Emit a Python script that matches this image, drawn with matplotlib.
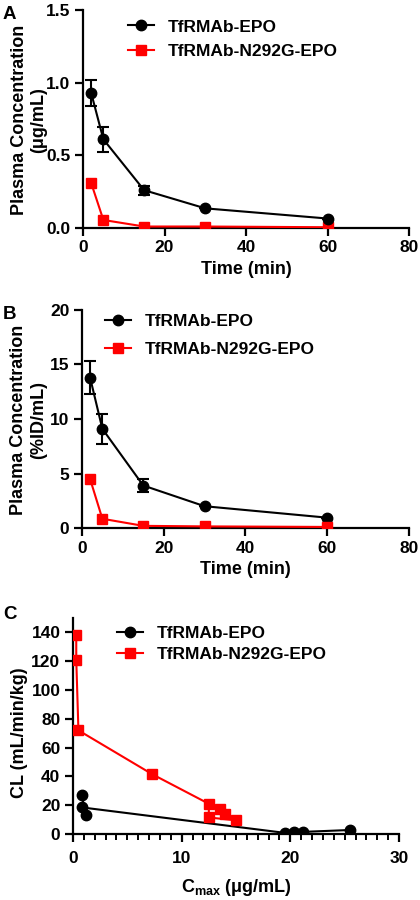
import matplotlib
matplotlib.use("Agg")
import matplotlib.pyplot as plt
from matplotlib.ticker import MultipleLocator
from matplotlib.lines import Line2D

plt.rcParams['font.family'] = ['Liberation Sans', 'DejaVu Sans']
plt.rcParams['font.weight'] = 'bold'
plt.rcParams['axes.labelweight'] = 'bold'
plt.rcParams['mathtext.fontset'] = 'custom'
plt.rcParams['mathtext.rm'] = 'Liberation Sans:bold'
plt.rcParams['mathtext.it'] = 'Liberation Sans:bold'
plt.rcParams['mathtext.bf'] = 'Liberation Sans:bold'

# Panel A / B data
time = [2, 5, 15, 30, 60]
a_epo = [0.93, 0.61, 0.26, 0.135, 0.065]
a_epo_err = [0.09, 0.085, 0.03, 0.0, 0.0]
a_n292g = [0.31, 0.055, 0.01, 0.01, 0.005]

b_epo = [13.8, 9.1, 3.9, 2.0, 0.95]
b_epo_err = [1.5, 1.4, 0.6, 0.0, 0.0]
b_n292g = [4.5, 0.85, 0.2, 0.15, 0.1]
b_n292g_err = [0.35, 0.0, 0.0, 0.0, 0.0]

# Panel C data
c_epo_x = [0.8, 1.2, 0.8, 19.5, 20.3, 21.2, 25.5]
c_epo_y = [27, 13, 18.5, 0.8, 1.2, 1.5, 2.8]
c_n_x = [0.3, 0.3, 0.5, 7.3, 12.5, 12.5, 15.0, 14.0, 13.5]
c_n_y = [138, 121, 72, 41.5, 21, 11.5, 9.5, 14, 17.5]

labels = ['TfRMAb-EPO', 'TfRMAb-N292G-EPO']
BLACK = 'black'
RED = '#ff0000'
MS_C = 7.5
MS_S = 7.5

fig = plt.figure(figsize=(4.2, 9), dpi=100)
FS = 12.5
LFS = 13

def style(ax):
    for s in ['top', 'right']:
        ax.spines[s].set_visible(False)
    for s in ['left', 'bottom']:
        ax.spines[s].set_linewidth(1.6)
    ax.tick_params(axis='both', which='major', direction='out', length=6, width=1.6, labelsize=FS, pad=3)
    ax.tick_params(axis='both', which='minor', direction='out', length=4, width=1.4)
    for t in ax.get_xticklabels() + ax.get_yticklabels():
        t.set_fontweight('bold')

def leg(ax, x, y, spacing):
    handles = [Line2D([], [], color=BLACK, marker='o', ms=MS_C, lw=1.5),
               Line2D([], [], color=RED, marker='s', ms=MS_S, lw=1.5)]
    l = ax.legend(handles, labels, loc='upper left', bbox_to_anchor=(x, y), frameon=False, fontsize=FS,
                  handlelength=1.5, handletextpad=0.8, labelspacing=spacing, borderpad=0, borderaxespad=0)
    for t in l.get_texts():
        t.set_fontweight('bold')

# Panel A
axA = fig.add_axes([0.1976, 0.7467, 0.7764, 0.2422])
axA.errorbar(time, a_epo, yerr=a_epo_err, color=BLACK, marker='o', ms=MS_C, lw=1.5,
             capsize=4, elinewidth=1.5, capthick=1.5, zorder=3)
axA.plot(time, a_n292g, color=RED, marker='s', ms=MS_S, lw=1.5, zorder=3)
axA.set_xlim(0, 80)
axA.set_ylim(0, 1.5)
axA.set_xticks([0, 20, 40, 60, 80])
axA.set_yticks([0.0, 0.5, 1.0, 1.5])
axA.set_yticklabels(['0.0', '0.5', '1.0', '1.5'])
axA.set_xlabel('Time (min)', fontsize=LFS, fontweight='bold')
axA.set_ylabel('Plasma Concentration\n(μg/mL)', fontsize=LFS, fontweight='bold', linespacing=1.2)
axA.yaxis.set_label_coords(-0.11, 0.495)
style(axA)
leg(axA, 0.138, 0.957, 0.55)
fig.text(0.007, 0.993, 'A', fontsize=LFS + 0.5, fontweight='bold', va='top')

# Panel B
axB = fig.add_axes([0.195, 0.4133, 0.779, 0.2423])
axB.errorbar(time, b_epo, yerr=b_epo_err, color=BLACK, marker='o', ms=MS_C, lw=1.5,
             capsize=4, elinewidth=1.5, capthick=1.5, zorder=3)
axB.errorbar(time, b_n292g, yerr=b_n292g_err, color=RED, marker='s', ms=MS_S, lw=1.5,
             capsize=0, elinewidth=1.5, zorder=3)
axB.set_xlim(0, 80)
axB.set_ylim(0, 20)
axB.set_xticks([0, 20, 40, 60, 80])
axB.set_yticks([0, 5, 10, 15, 20])
axB.set_xlabel('Time (min)', fontsize=LFS, fontweight='bold')
axB.set_ylabel('Plasma Concentration\n(%ID/mL)', fontsize=LFS, fontweight='bold', linespacing=1.2)
axB.yaxis.set_label_coords(-0.107, 0.495)
style(axB)
leg(axB, 0.07, 0.98, 0.72)
fig.text(0.007, 0.66, 'B', fontsize=LFS + 0.5, fontweight='bold', va='top')

# Panel C
axC = fig.add_axes([0.1738, 0.0733, 0.7762, 0.24])
axC.plot(c_epo_x, c_epo_y, color=BLACK, marker='o', ms=MS_C, lw=1.5, zorder=3)
axC.plot(c_n_x, c_n_y, color=RED, marker='s', ms=MS_S, lw=1.5, zorder=3)
axC.set_xlim(0, 30)
axC.set_ylim(0, 150)
axC.set_xticks([0, 10, 20, 30])
axC.xaxis.set_minor_locator(MultipleLocator(1))
axC.set_yticks(list(range(0, 141, 20)))
axC.set_xlabel('C$_{max}$ (μg/mL)', fontsize=LFS, fontweight='bold', labelpad=8)
axC.set_ylabel('CL (mL/min/kg)', fontsize=LFS, fontweight='bold')
axC.yaxis.set_label_coords(-0.138, 0.47)
style(axC)
axC.tick_params(axis='x', which='major', pad=6)
leg(axC, 0.135, 0.962, 0.32)
fig.text(0.007, 0.327, 'C', fontsize=LFS + 0.5, fontweight='bold', va='top')

fig.savefig('out.png', dpi=100)
